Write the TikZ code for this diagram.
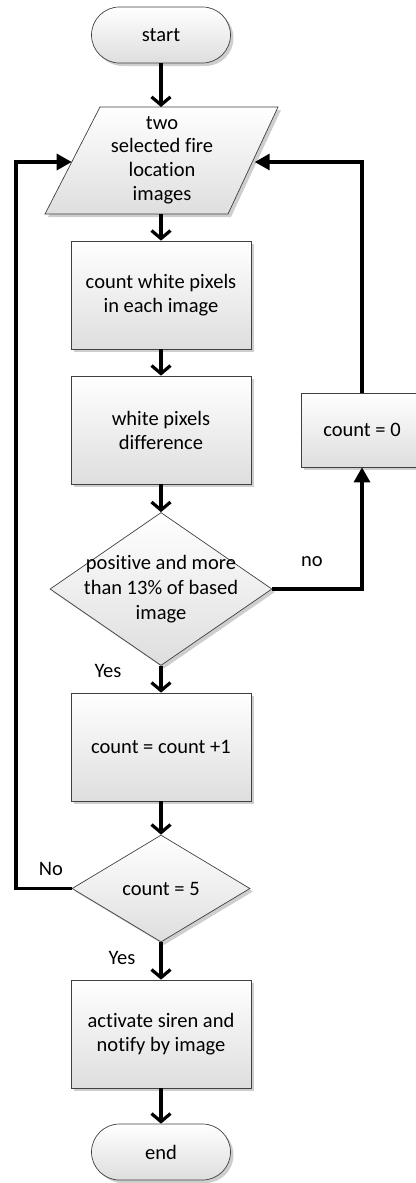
\documentclass[tikz,border=0pt]{standalone}
\usepackage{fontspec}
\setmainfont{Carlito}[Ligatures=NoCommon]
\usetikzlibrary{arrows.meta,shadows,shapes.geometric}
\begin{document}
\begin{tikzpicture}[x=1pt,y=-1pt,
  font=\fontsize{20.5}{24}\selectfont,
  box/.style={draw=black!75, line width=0.7pt, top color=white, bottom color=black!13,
    drop shadow={shadow xshift=3pt, shadow yshift=-3pt, opacity=0.35, fill=black!55}},
  proc/.style={box, rectangle, minimum width=180pt, minimum height=108pt, inner sep=0pt, align=center},
  term/.style={box, rectangle, rounded corners=28pt, minimum width=139pt, minimum height=56pt, inner sep=0pt},
  dec/.style={box, diamond, inner sep=0pt},
  txt/.style={inner sep=0pt, align=center},
  flow/.style={line width=3.2pt, -{Straight Barb[length=8pt,width=19pt]}},
  loopback/.style={line width=3.2pt, -{Triangle[length=15pt,width=16pt]}}
]
\useasboundingbox (0,0) rectangle (415,1183);

% start
\node[term] (start) at (161,35) {start};

% parallelogram (input)
\path[box] (100,107) -- (278,107) -- (228,214) -- (45,214) -- cycle;
\node[txt, font=\fontsize{20.5}{23.7}\selectfont] (para) at (162,160) {two\\selected fire\\location\\images};
\coordinate (paraT) at (161,107);
\coordinate (paraB) at (161,214);
\coordinate (paraL) at (71.7,162);
\coordinate (paraR) at (254.7,162);

% processes
\node[proc] (b1) at (161,295) {count white pixels\\in each image};
\node[proc] (b2) at (161,430) {white pixels\\difference};
\node[dec, minimum width=222pt, minimum height=153pt] (d1) at (161,589) {};
\node[txt, font=\fontsize{20.5}{25}\selectfont] (d1t) at (161,589) {positive and more\\than 13\% of based\\image};
\node[proc] (b3) at (161,747) {count = count +1};
\node[dec, minimum width=178pt, minimum height=107pt] (d2) at (161,888.5) {};
\node[txt] (d2t) at (161,888.5) {count = 5};
\node[proc] (b4) at (161,1034) {activate siren and\\notify by image};
\node[term] (end) at (161,1152) {end};

\node[box, rectangle, minimum width=122pt, minimum height=74pt, inner sep=0pt] (c0) at (362,430) {};
\node[txt] (c0t) at (362,430) {count = 0};

% labels
\node[txt] (lno) at (312,562) {no};
\node[txt] (lyes1) at (108,671) {Yes};
\node[txt] (lno2) at (51,869) {No};
\node[txt] (lyes2) at (122,958) {Yes};

\coordinate (cL) at (16,162);

% connectors
\draw[flow] (start) -- (paraT);
\draw[flow] (paraB) -- (b1);
\draw[flow] (b1) -- (b2);
\draw[flow] (b2) -- (d1);
\draw[flow] (d1) -- (b3);
\draw[flow] (b3) -- (d2);
\draw[flow] (d2) -- (b4);
\draw[flow] (b4) -- (end);
\draw[loopback] (d1.east) -| (c0.south);
\draw[loopback] (c0.north) |- (paraR);
\draw[loopback] (d2.west) -| (cL) -- (paraL);
\end{tikzpicture}
\end{document}
